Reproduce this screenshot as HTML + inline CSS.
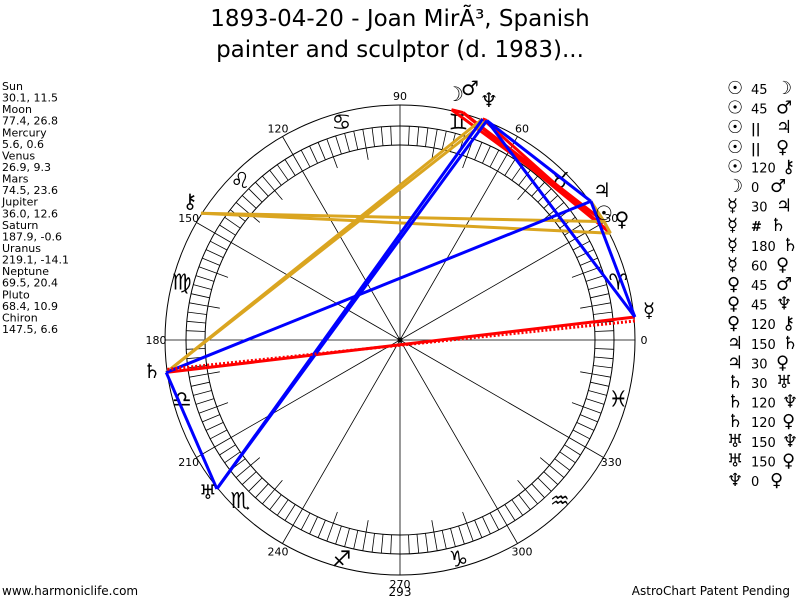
<!DOCTYPE html>
<html><head><meta charset="utf-8"><style>
body{margin:0;background:#fff;width:800px;height:600px;overflow:hidden}
svg{display:block}
text{font-family:"DejaVu Sans","Liberation Sans",sans-serif}
</style></head><body>
<svg id="s" width="800" height="600" xmlns="http://www.w3.org/2000/svg">
<text x="400" y="26" font-size="23" text-anchor="middle" fill="#000">1893-04-20 - Joan MirÃ³, Spanish</text>
<text x="400" y="57" font-size="23" text-anchor="middle" fill="#000">painter and sculptor (d. 1983)...</text>
<g id="left" font-size="11" fill="#000"></g>
<g id="chart"></g>
<g id="leg" fill="#000"></g>
<text x="2" y="595" font-size="12">www.harmoniclife.com</text>
<text x="790" y="595" font-size="12" text-anchor="end">AstroChart Patent Pending</text>
<text x="400" y="596" font-size="12" text-anchor="middle">293</text>
</svg>
<script>
var NS="http://www.w3.org/2000/svg";
function el(p,t,a,txt){var e=document.createElementNS(NS,t);for(var k in a)e.setAttribute(k,a[k]);if(txt!==undefined)e.textContent=txt;p.appendChild(e);return e;}
var L=document.getElementById('left');
var lines=["Sun","30.1, 11.5","Moon","77.4, 26.8","Mercury","5.6, 0.6","Venus","26.9, 9.3","Mars","74.5, 23.6","Jupiter","36.0, 12.6","Saturn","187.9, -0.6","Uranus","219.1, -14.1","Neptune","69.5, 20.4","Pluto","68.4, 10.9","Chiron","147.5, 6.6"];
lines.forEach(function(s,i){el(L,'text',{x:2,y:90+i*11.57},s);});
var C=document.getElementById('chart');
var cx=400,cy=340,R=235;
function P(a,r){var t=a*Math.PI/180;return [cx+r*Math.cos(t),cy-r*Math.sin(t)];}
el(C,'circle',{cx:cx,cy:cy,r:R,fill:'none',stroke:'#000','stroke-width':1});
el(C,'circle',{cx:cx,cy:cy,r:214,fill:'none',stroke:'#000','stroke-width':1});
el(C,'circle',{cx:cx,cy:cy,r:195,fill:'none',stroke:'#000','stroke-width':1});
var d="";
for(var a=0;a<360;a+=2.5){var p=P(a,195),q=P(a,214);d+="M"+p[0].toFixed(1)+" "+p[1].toFixed(1)+"L"+q[0].toFixed(1)+" "+q[1].toFixed(1);}
for(var a=0;a<360;a+=10){if(a%30==0)continue;var p=P(a,183),q=P(a,195);d+="M"+p[0].toFixed(1)+" "+p[1].toFixed(1)+"L"+q[0].toFixed(1)+" "+q[1].toFixed(1);}
for(var a=0;a<360;a+=30){var q=P(a,R);d+="M"+cx+" "+cy+"L"+q[0].toFixed(1)+" "+q[1].toFixed(1);}
el(C,'path',{d:d,stroke:'#000','stroke-width':0.8,fill:'none'});
el(C,'circle',{cx:cx,cy:cy,r:2.5,fill:'#000'});
for(var a=0;a<360;a+=30){var p=P(a,244);el(C,'text',{x:p[0],y:p[1]+4,'font-size':11,'text-anchor':'middle',fill:'#000'},String(a));}
var signs="♈♉♊♋♌♍♎♏♐♑♒♓";
for(var i=0;i<12;i++){var p=P(15+30*i,226);el(C,'text',{x:p[0],y:p[1]+8,'font-size':22,'text-anchor':'middle',fill:'#000'},signs[i]);}
var pl={Su:30.1,Mo:77.4,Me:5.6,Ve:26.9,Ma:74.5,Ju:36,Sa:187.9,Ur:219.1,Ne:69.5,Pl:68.4,Ch:147.5};
function pt(k){return P(pl[k],236);}
var asp=[["Su","Mo","red"],["Su","Ma","red"],["Mo","Ma","red"],["Me","Sa","red"],["Ve","Ma","red"],["Ve","Ne","red"],["Ne","Pl","red"],
["Su","Ch","#daa520"],["Ve","Ch","#daa520"],["Sa","Ne","#daa520"],["Sa","Pl","#daa520"],["Su","Ju","#daa520"],["Su","Ve","#daa520"],
["Me","Ju","blue"],["Me","Pl","blue"],["Ju","Sa","blue"],["Ju","Pl","blue"],["Sa","Ur","blue"],["Ur","Ne","blue"],["Ur","Pl","blue"]];
asp.forEach(function(a){var p=pt(a[0]),q=pt(a[1]);el(C,'line',{x1:p[0],y1:p[1],x2:q[0],y2:q[1],stroke:a[2],'stroke-width':3});});
var p=pt("Me"),q=pt("Sa");el(C,'line',{x1:p[0],y1:p[1]+4,x2:q[0],y2:q[1]-3,stroke:'red','stroke-width':3,'stroke-dasharray':'2,2'});
var g=[["♄",152,378],["♅",208,499],["♆",489,107],["☽",455,101],["♂",470,95],["♃",602,197],["☉",604,220],["♀",622,226],["☿",649,317],["⚷",190,208]];
g.forEach(function(a){el(C,'text',{x:a[1],y:a[2],'font-size':20,'text-anchor':'middle',fill:'#000'},a[0]);});
var G=document.getElementById('leg');
var leg=[["☉","45","☽"],["☉","45","♂"],["☉","||","♃"],["☉","||","♀"],["☉","120","⚷"],["☽","0","♂"],["☿","30","♃"],["☿","#","♄"],["☿","180","♄"],["☿","60","♀"],["♀","45","♂"],["♀","45","♆"],["♀","120","⚷"],["♃","150","♄"],["♃","30","♀"],["♄","30","♅"],["♄","120","♆"],["♄","120","♀"],["♅","150","♆"],["♅","150","♀"],["♆","0","♀"]];
leg.forEach(function(r,i){var y=94+i*19.6;
el(G,'text',{x:727,y:y,'font-size':18},r[0]);
el(G,'text',{x:751,y:y,'font-size':13,'font-weight':(r[1]=="||"||r[1]=="#")?'bold':'normal'},r[1]);
var x3=r[1].length>=3?782:(r[1].length==2?776:770);
el(G,'text',{x:x3,y:y,'font-size':18},r[2]);});
</script>
</body></html>
